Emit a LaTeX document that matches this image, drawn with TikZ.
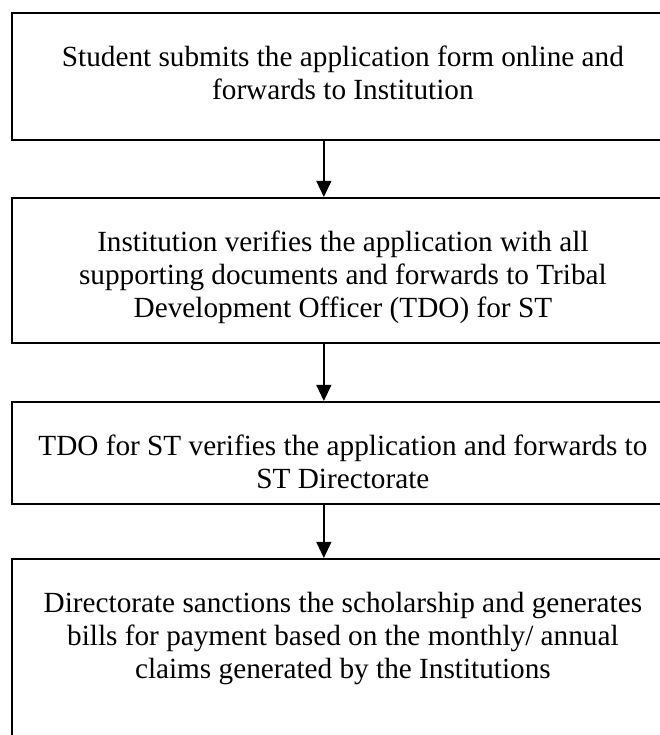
\documentclass[tikz,border=0pt]{standalone}
\usepackage{fontspec}
\setmainfont{Liberation Serif}
\usetikzlibrary{arrows.meta,positioning}

\begin{document}
\begin{tikzpicture}[
  etape/.style={draw, line width=0.9pt, inner sep=0pt, anchor=north west,
                font=\fontsize{13}{14.7}\selectfont,
                execute at begin node={\hspace*{0.17cm}%
                  \begin{minipage}[c][#1][t]{10cm}\centering\vspace*{0.47cm}\strut},
                execute at end node={\end{minipage}\hspace*{2cm}}},
  fleche/.style={-{Triangle[length=7.2pt,width=6.7pt]}, line width=0.6pt}]

  \useasboundingbox (0,0) rectangle (10.297,11.484);
  \coordinate (axe) at (5.06,0);

  \node[etape=1.984cm] (E1) at (0.172,11.297)
    {Student submits the application form online and\\
     forwards to Institution};
  \node[etape=2.266cm] (E2) at (0.172,8.406)
    {Institution verifies the application with all\\
     supporting documents and forwards to Tribal\\
     Development Officer (TDO) for ST};
  \node[etape=1.594cm] (E3) at (0.172,5.219)
    {TDO for ST verifies the application and forwards to\\
     ST Directorate};
  \node[etape=4cm] (E4) at (0.172,2.766)
    {Directorate sanctions the scholarship and generates\\
     bills for payment based on the monthly/ annual\\
     claims generated by the Institutions};

  \draw[fleche] (E1.south -| axe)--(E2.north -| axe);
  \draw[fleche] (E2.south -| axe)--(E3.north -| axe);
  \draw[fleche] (E3.south -| axe)--(E4.north -| axe);
\end{tikzpicture}
\end{document}
